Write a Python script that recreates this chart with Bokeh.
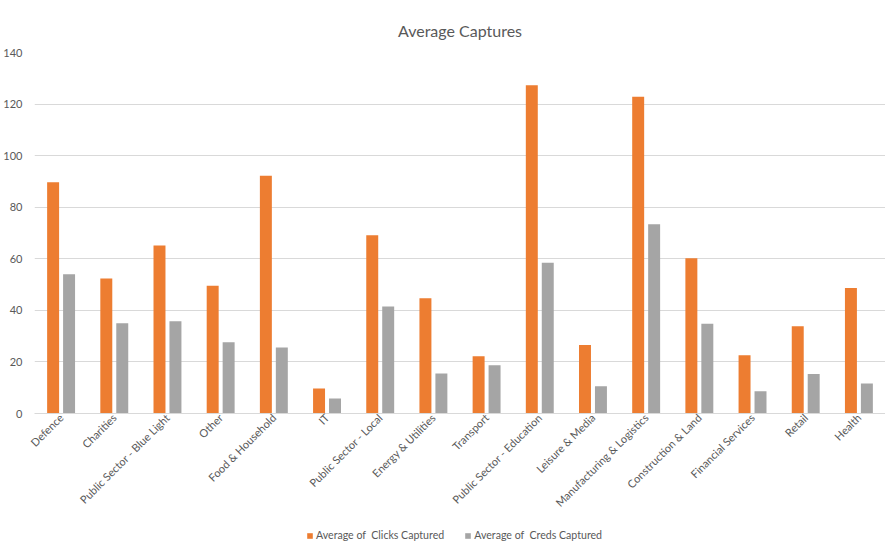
import math
from bokeh.plotting import figure
from bokeh.layouts import column
from bokeh.models import (ColumnDataSource, FactorRange, Legend, LegendItem, FixedTicker,
                          Range1d)
from bokeh.transform import dodge
from bokeh.embed import file_html
from bokeh.resources import INLINE

categories = ["Defence", "Charities", "Public Sector - Blue Light", "Other",
              "Food & Household", "IT", "Public Sector - Local", "Energy & Utilities",
              "Transport", "Public Sector - Education", "Leisure & Media",
              "Manufacturing & Logistics", "Construction & Land", "Financial Services",
              "Retail", "Health"]
clicks = [89.7, 52.4, 65.2, 49.5, 92.2, 9.7, 69.1, 44.7,
          22.2, 127.3, 26.6, 122.8, 60.2, 22.6, 33.8, 48.7]
creds = [54.0, 35.0, 35.8, 27.6, 25.6, 5.8, 41.5, 15.5,
         18.7, 58.5, 10.6, 73.4, 34.8, 8.6, 15.3, 11.6]
y_ticks = [0, 20, 40, 60, 80, 100, 120, 140]
series_names = ["Average of  Clicks Captured", "Average of  Creds Captured"]
series_colors = ["#ED7D31", "#A5A5A5"]

FONT = "Lato"
TXT = "#595959"
W = 885

source = ColumnDataSource(data=dict(cat=categories, clicks=clicks, creds=creds))

p = figure(x_range=FactorRange(*categories, range_padding=0),
           y_range=(0, 140), width=W, height=516,
           output_backend="svg", toolbar_location=None,
           min_border_top=52, min_border_left=0, min_border_right=0, min_border_bottom=100)

p.title.text = "Average Captures"
p.title.align = "center"
p.title.text_font = FONT
p.title.text_font_size = "16px"
p.title.text_font_style = "normal"
p.title.text_color = TXT
p.title.standoff = 25

p.vbar(x=dodge("cat", -0.15, range=p.x_range), top="clicks", width=0.225,
       source=source, color=series_colors[0], line_color=None)
p.vbar(x=dodge("cat", 0.15, range=p.x_range), top="creds", width=0.225,
       source=source, color=series_colors[1], line_color=None)

p.outline_line_color = None
p.xgrid.grid_line_color = None
p.ygrid.grid_line_color = "#D9D9D9"
p.ygrid.grid_line_width = 1

p.yaxis.ticker = FixedTicker(ticks=y_ticks)
p.yaxis.axis_line_color = None
p.yaxis.major_tick_line_color = None
p.yaxis.minor_tick_line_color = None
p.yaxis.major_label_text_font = FONT
p.yaxis.major_label_text_font_size = "11px"
p.yaxis.major_label_text_color = TXT
p.yaxis.major_label_standoff = 6

p.xaxis.axis_line_color = "#D9D9D9"
p.xaxis.major_tick_line_color = None
p.xaxis.minor_tick_line_color = None
p.xaxis.major_tick_out = 0
p.xaxis.major_label_orientation = math.pi / 4
p.xaxis.major_label_text_font = FONT
p.xaxis.major_label_text_font_size = "11px"
p.xaxis.major_label_text_color = TXT
p.xaxis.major_label_standoff = 2

# legend strip below the chart (its renderers are hidden; only the legend shows)
pl = figure(x_range=FactorRange(*categories, range_padding=0), y_range=Range1d(0, 140),
            width=W, height=34, output_backend="svg", toolbar_location=None,
            x_axis_type=None, y_axis_type=None, min_border=0)
pl.outline_line_color = None
pl.xgrid.grid_line_color = None
pl.ygrid.grid_line_color = None
lr1 = pl.vbar(x="cat", top="clicks", width=0.2, source=source,
              color=series_colors[0], line_color=None, visible=False)
lr2 = pl.vbar(x="cat", top="creds", width=0.2, source=source,
              color=series_colors[1], line_color=None, visible=False)

legend = Legend(items=[LegendItem(label=series_names[0], renderers=[lr1]),
                       LegendItem(label=series_names[1], renderers=[lr2])],
                orientation="horizontal", location=(272, 9))
legend.click_policy = "none"
legend.inactive_fill_alpha = 0
legend.label_text_font = FONT
legend.label_text_font_size = "10.6px"
legend.label_text_color = TXT
legend.glyph_width = 7
legend.glyph_height = 7
legend.spacing = 20
legend.label_standoff = 3
legend.border_line_color = None
legend.background_fill_alpha = 0
legend.padding = 2
legend.margin = 0
pl.add_layout(legend, "center")

layout = column(p, pl, spacing=0)
open("out.html", "w").write(file_html(layout, INLINE))
